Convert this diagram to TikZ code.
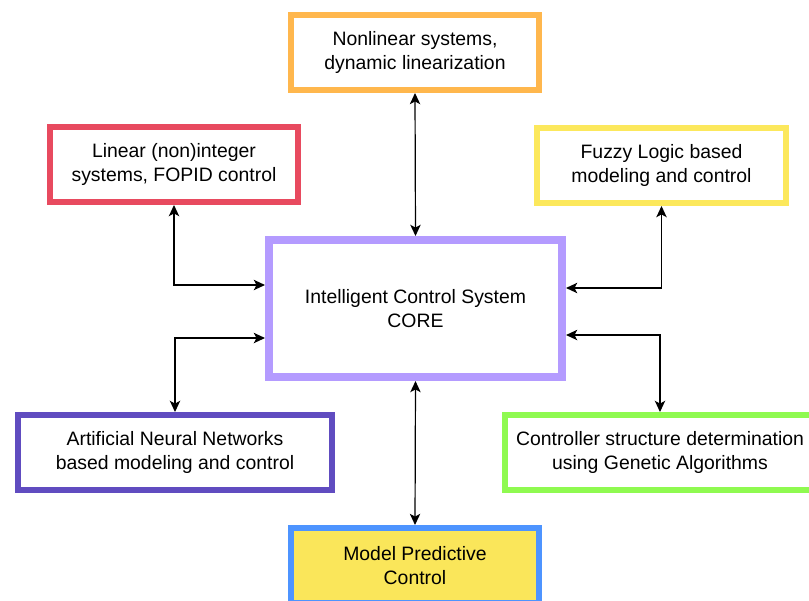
\documentclass[tikz,border=0pt]{standalone}
\usepackage{fontspec}
\setmainfont{Liberation Sans}
\usepackage{xcolor}
\usetikzlibrary{positioning,arrows.meta}

\definecolor{nlorange}{RGB}{255,183,77}
\definecolor{linred}{RGB}{232,74,95}
\definecolor{fuzyellow}{RGB}{252,232,92}
\definecolor{corelav}{RGB}{180,155,255}
\definecolor{annpurple}{RGB}{96,76,192}
\definecolor{gagreen}{RGB}{143,250,80}
\definecolor{mpcblue}{RGB}{77,148,255}
\definecolor{mpcfill}{RGB}{250,230,90}

\tikzset{
  topic/.style={draw, line width=0.15cm, fill=white, align=center,
    minimum width=6.2cm, minimum height=1.875cm,
    font=\fontsize{13.8}{17}\selectfont},
  link/.style={{Stealth[length=0.28cm,width=0.26cm,inset=0.07cm]}-{Stealth[length=0.28cm,width=0.26cm,inset=0.07cm]}, line width=0.03cm}
}

\begin{document}
\begin{tikzpicture}[x=0.025cm, y=-0.025cm]
  \useasboundingbox (0,0) rectangle (809,600);
  \clip (0,0) rectangle (809,600);
  % central block
  \node[topic, draw=corelav, line width=0.2cm, minimum width=7.325cm,
        minimum height=3.425cm] (core) at (415.5,308.5)
        {Intelligent Control System\\CORE};
  % surrounding topics
  \node[topic, draw=nlorange] (nonlin) at (415,52.5)
        {Nonlinear systems,\\dynamic linearization};
  \node[topic, draw=linred] (lin) at (174,164.5)
        {Linear (non)integer\\systems, FOPID control};
  \node[topic, draw=fuzyellow] (fuzzy) at (661.5,165.5)
        {Fuzzy Logic based\\modeling and control};
  \node[topic, draw=annpurple, minimum width=7.85cm] (ann) at (175,452.5)
        {Artificial Neural Networks\\based modeling and control};
  \node[topic, draw=gagreen, minimum width=7.75cm] (ga) at (660,452.5)
        {Controller structure determination\\using Genetic Algorithms};
  \node[topic, draw=mpcblue, fill=mpcfill] (mpc) at (415,565.5)
        {Model Predictive\\Control};
  % links to the core
  \draw[link] (nonlin.south) -- (core.north);
  \draw[link] (core.south) -- (mpc.north);
  \draw[link] (lin.south) |- ([yshift=0.5875cm]core.west);
  \draw[link] (fuzzy.south) |- ([yshift=0.5125cm]core.east);
  \draw[link] (ann.north) |- ([yshift=-0.7375cm]core.west);
  \draw[link] (ga.north) |- ([yshift=-0.6625cm]core.east);
\end{tikzpicture}
\end{document}
